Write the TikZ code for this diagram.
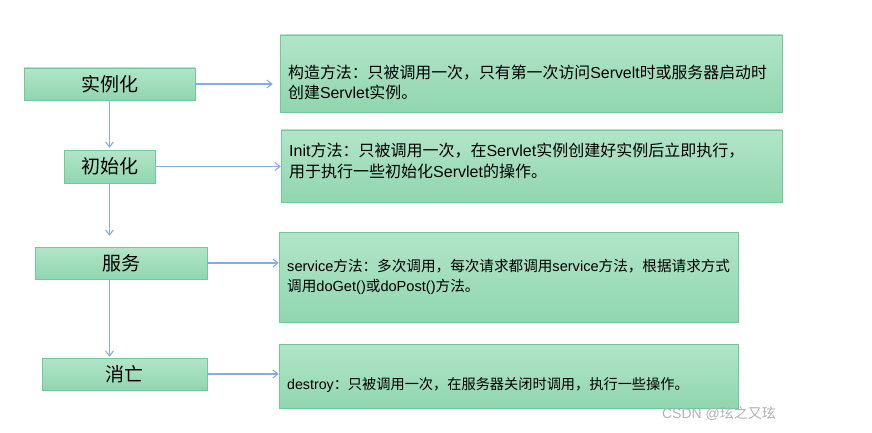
\documentclass[tikz,border=0pt]{standalone}
\usepackage{fontspec}
\setmainfont{Noto Sans CJK SC}
\newfontfamily\lat{Liberation Sans}
\usetikzlibrary{arrows.meta}
\definecolor{boxtop}{RGB}{178,229,201}
\definecolor{boxbot}{RGB}{144,214,175}
\definecolor{boxline}{RGB}{112,201,152}
\definecolor{arrowblue}{RGB}{135,172,225}
\tikzset{
	stage/.style={draw=boxline, top color=boxtop, bottom color=boxbot,
			inner sep=0pt, font=\fontsize{19}{22}\selectfont},
	note/.style={draw=boxline, top color=boxtop, bottom color=boxbot, inner sep=0pt},
	desc/.style={align=left, anchor=west, inner sep=0pt},
	flow/.style={draw=arrowblue, line width=1.1pt, -{Straight Barb[length=5pt,width=8pt]}}
}

\begin{document}
\begin{tikzpicture}[x=1pt, y=-1pt]
			\useasboundingbox (0,0) rectangle (872,433);
			
			% Stages of the life cycle
			\node[stage, minimum width=171, minimum height=32] (shili) at (109.5,84) {实例化};
			\node[stage, minimum width=91, minimum height=33] (chushi) at (109.5,166.5) {初始化};
			\node[stage, minimum width=172, minimum height=32] (fuwu) at (121,263) {服务};
			\node[stage, minimum width=165, minimum height=32] (xiaowang) at (124.5,374) {消亡};
			
			% Description boxes
			\node[note, minimum width=502, minimum height=77] (gouzao) at (531,73.5) {};
			\node[note, minimum width=501, minimum height=72] (init) at (531.5,166) {};
			\node[note, minimum width=459, minimum height=90] (service) at (508.5,277) {};
			\node[note, minimum width=459, minimum height=64] (destroy) at (508.5,376) {};
			
			% Description texts
			\node[desc, font=\fontsize{15.9}{20}\selectfont] (gouzaotxt) at (288,82)
				{构造方法：只被调用一次，只有第一次访问{\lat Servelt}时或服务器启动时\\创建{\lat Servlet}实例。};
			\node[desc, font=\fontsize{16}{21}\selectfont] (inittxt) at (289,161)
				{{\lat Init}方法：只被调用一次，在{\lat Servlet}实例创建好实例后立即执行，\\用于执行一些初始化{\lat Servlet}的操作。};
			\node[desc, font=\fontsize{14.6}{20}\selectfont] (servicetxt) at (287,277)
				{{\lat service}方法：多次调用，每次请求都调用{\lat service}方法，根据请求方式\\调用{\lat doGet()}或{\lat doPost()}方法。};
			\node[desc, font=\fontsize{14.2}{20}\selectfont] (destroytxt) at (287,385)
				{{\lat destroy}：只被调用一次，在服务器关闭时调用，执行一些操作。};
			
			% Flow down the stages
			\draw[flow, shorten >=2pt] (shili.south) -- (chushi.north);
			\draw[flow, shorten >=11pt] (chushi.south) -- (chushi.south |- fuwu.north);
			\draw[flow, shorten >=1pt] (fuwu.south -| shili.south) -- (xiaowang.north -| shili.south);
			
			% Stage to description
			\draw[flow, shorten >=7pt] (shili.east) -- (shili.east -| gouzao.west);
			\draw[flow] (chushi.east) -- (chushi.east -| init.west);
			\draw[flow] (fuwu.east) -- (fuwu.east -| service.west);
			\draw[flow] (xiaowang.east) -- (xiaowang.east -| destroy.west);
			
			% Watermark
			\node[text=black!30, font=\fontsize{14}{16}\selectfont] (mark) at (719,414) {{\lat CSDN @}玹之又玹};
			
		\end{tikzpicture}
\end{document}
